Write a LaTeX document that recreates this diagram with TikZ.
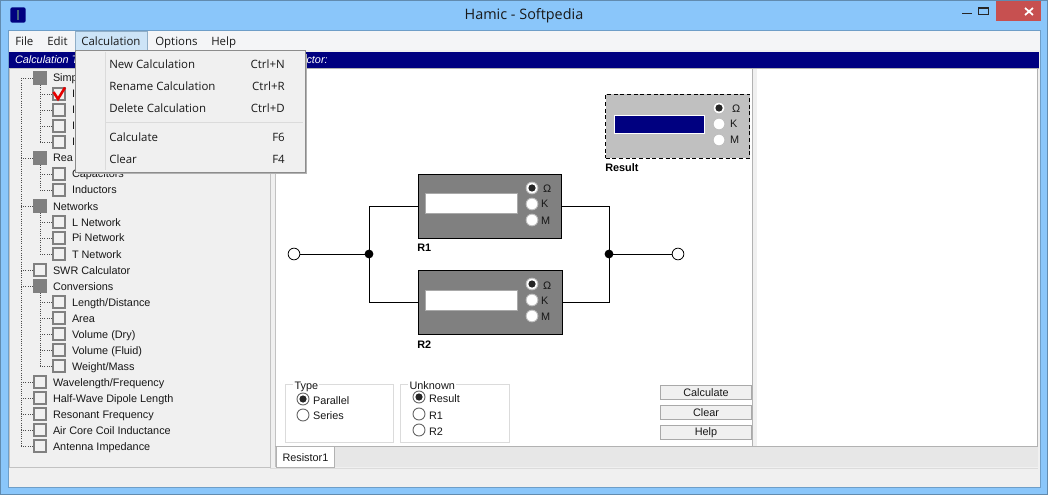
\documentclass[tikz,border=0pt]{standalone}
\usepackage{fontspec}
\setmainfont{Liberation Sans}
\newfontfamily\menufont{Open Sans}
\newcommand{\tw}{\fontsize{8.15pt}{10pt}\selectfont}
\newcommand{\mf}{\menufont\fontsize{8.6pt}{10pt}\selectfont}
\definecolor{chrome}{HTML}{8AC6FA}
\definecolor{panel}{HTML}{F0F0F0}
\definecolor{menubar}{HTML}{F4F5F7}
\definecolor{navyb}{HTML}{000080}
\definecolor{midgrey}{HTML}{808080}
\definecolor{lightg}{HTML}{C0C0C0}
\definecolor{edge}{HTML}{A9A9A9}
\definecolor{txt}{HTML}{181818}
\definecolor{closer}{HTML}{C75050}
\definecolor{hilite}{HTML}{CDE4F7}
\tikzset{
  lab/.style={anchor=base west,yshift=-3pt,inner sep=0pt,outer sep=0pt,text=txt,font=\tw},
  menutext/.style={anchor=base west,yshift=-3.2pt,inner sep=0pt,text=black!90,font=\mf},
  menukey/.style={anchor=base east,yshift=-3.2pt,inner sep=0pt,text=black!90,font=\mf},
  boldlab/.style={anchor=base west,yshift=-3pt,inner sep=0pt,text=black,font=\tw\bfseries},
  emptybox/.style={draw=midgrey,line width=1.5pt,fill=panel,minimum size=9.2pt,inner sep=0pt,outer sep=0.55pt},
  fullbox/.style={fill=midgrey,minimum size=10.2pt,inner sep=0pt,outer sep=0pt},
  treeline/.style={densely dotted,line width=0.7pt,draw=black!70},
  wire/.style={line width=0.7pt,draw=black},
  panelbox/.style={draw=black,line width=0.7pt,fill=midgrey,inner sep=0pt,outer sep=0pt},
  entry/.style={draw=edge,line width=0.75pt,fill=white,inner sep=0pt},
  dial/.style={circle,draw=black!25,line width=0.7pt,fill=white,minimum size=8.8pt,inner sep=0pt},
  dialblack/.style={circle,draw=black!60,line width=0.7pt,fill=white,minimum size=9pt,inner sep=0pt},
  dotin/.style={circle,fill=black!85,minimum size=5.4pt,inner sep=0pt},
  terminal/.style={circle,draw=black,line width=0.6pt,fill=white,minimum size=8.8pt,inner sep=0pt,outer sep=0pt},
  junction/.style={circle,fill=black,minimum size=6.6pt,inner sep=0pt,outer sep=0pt},
  groupbox/.style={draw=black!14,line width=0.75pt,fill=none,inner sep=0pt},
  legendlab/.style={anchor=base west,yshift=-3pt,inner sep=1pt,fill=white,text=txt,font=\tw},
  pushbtn/.style={draw=edge,line width=0.8pt,fill=panel,inner sep=0pt,text=txt,font=\tw,minimum width=68.6pt,minimum height=10.8pt},
}
\newcommand{\dialrow}[4]{% prefix, x, ytop, xlabel
  \node[dial] (#1a) at (#2,#3) {};
  \node[dotin] at (#1a) {};
  \node[dial] (#1b) at (#2,#3+16) {};
  \node[dial] (#1c) at (#2,#3+32) {};
  \node[lab] at (#4+2,#3+1) {Ω};
  \node[lab] at (#4,#3+16) {K};
  \node[lab] at (#4,#3+32) {M};
}
\begin{document}
\begin{tikzpicture}[x=0.75pt,y=-0.75pt]
\useasboundingbox (0,0) rectangle (1048,495);
% window chrome
\fill[chrome] (0,0) rectangle (1048,495);
\draw[draw=chrome!70!black,line width=0.75pt] (0.5,0.5) rectangle (1047.5,494.5);
\fill[panel] (8,31) rectangle (1040,487);
\draw[draw=chrome!80!black,line width=0.75pt] (8,31) rectangle (1040,487);
\fill[menubar] (8.5,31.5) rectangle (1039.5,50);
\fill[navyb] (9,52) rectangle (1039,68);
\fill[black!30] (9,68) rectangle (1039,69);
% app icon and title
\node[fill=navyb,rounded corners=1.5pt,minimum size=11.5pt,inner sep=0pt] (icon) at (18,15) {};
\fill[black!50!chrome] (17,10) rectangle (19,20);
\node[inner sep=0pt,text=black!90,font=\menufont\fontsize{10.8pt}{13pt}\selectfont] (title) at (524,16) {Hamic - Softpedia};
% window buttons
\fill[closer] (996,1) rectangle (1041,21);
\draw[white,line width=1.3pt] (1025,8) -- (1033,15) (1033,8) -- (1025,15);
\draw[black!85,line width=1.3pt] (972,13.5) -- (962,13.5);
\draw[black!85,line width=0.8pt] (978.5,8) rectangle (988.5,14.5);
\draw[black!85,line width=1.5pt] (978.5,8) -- (988.5,8);
% bar text
\node[lab,text=white,font=\tw\itshape] (barl) at (15,60) {Calculation T};
\node[lab,text=white,font=\tw\itshape] (barr) at (306.5,60) {ctor:};
% tree panel
\fill[panel] (9,69) rectangle (270,467);
\draw[draw=black!24,line width=0.75pt] (9.5,69) -- (9.5,467) -- (270,467) -- (270,69) -- cycle;
\draw[draw=black!24,line width=0.75pt] (275,69) -- (275,467);
% working area
\fill[white] (275.5,69) rectangle (1037,446);
\fill[panel] (752,69) rectangle (757,446);
\draw[draw=black!30,line width=0.75pt] (752.5,69) -- (752.5,446);
\draw[draw=black!30,line width=0.75pt] (1037.5,69) -- (1037.5,446);
% tab strip
\fill[panel!96!black] (275.5,446) rectangle (1038,467);
\draw[draw=black!30,line width=0.75pt] (275,446.5) -- (1038,446.5);
\draw[draw=black!14,line width=0.75pt] (270,468) -- (1038,468);
\node[draw=black!30,fill=white,line width=0.75pt,inner sep=0pt,minimum width=43.5pt,minimum height=15.8pt] (tab) at (305,457) {};
\node[lab] (tabl) at (282.5,457.5) {Resistor1};
% tree: top level
\coordinate (trunktop) at (21,78);
\foreach \y/\t in {270/SWR Calculator,382/Wavelength\slash Frequency,398/Half-Wave Dipole Length,414/Resonant Frequency,430/Air Core Coil Inductance,446/Antenna Impedance}{
  \node[emptybox] (b\y) at (40,\y) {};
  \node[lab] at (53,\y) {\t};
}
\foreach \y/\t in {78/Simp,158/Rea,206/Networks,286/Conversions}{
  \node[fullbox] (b\y) at (40,\y) {};
  \node[lab] at (53,\y) {\t};
}
\foreach \y/\t in {94/I,110/I,126/I,142/I,174/Capacitors,190/Inductors,222/L Network,238/Pi Network,254/T Network,302/Length\slash Distance,318/Area,334/Volume (Dry),350/Volume (Fluid),366/Weight\slash Mass}{
  \node[emptybox] (c\y) at (59,\y) {};
  \node[lab] at (72,\y) {\t};
  \draw[treeline] (c\y.west) -- ++(-13,0);
}
\foreach \y in {78,158,206,270,286,382,398,414,430,446}{
  \draw[treeline] (b\y.west) -- (b\y.west -| trunktop);
}
\draw[treeline] (trunktop) -- (b446.west -| trunktop);
\draw[treeline] (b78.south) -- (c142.west -| b78.south);
\draw[treeline] (b158.south) -- (c190.west -| b158.south);
\draw[treeline] (b206.south) -- (c254.west -| b206.south);
\draw[treeline] (b286.south) -- (c366.west -| b286.south);
% red check
\draw[red!90!black,line width=1.9pt,line join=miter] (53.5,92) -- (58,99) -- (65,87.5);
% circuit
\node[panelbox,minimum width=107.25pt,minimum height=48pt] (R1) at (489.5,206) {};
\node[panelbox,minimum width=108pt,minimum height=48pt] (R2) at (490,302) {};
\node[terminal] (inp) at (294,254) {};
\node[terminal] (outp) at (678,254) {};
\node[junction] (j1) at (369,254) {};
\node[junction] (j2) at (609,254) {};
\draw[wire] (inp) -- (j1);
\draw[wire] (j2) -- (outp);
\draw[wire] (j1) |- (R1.west);
\draw[wire] (j1) |- (R2.west);
\draw[wire] (R1.east) -| (j2);
\draw[wire] (R2.east) -| (j2);
\node[entry,minimum width=69pt,minimum height=15pt] (e1) at (471,204) {};
\node[entry,minimum width=69pt,minimum height=15pt] (e2) at (471,300) {};
\dialrow{ra}{532}{188}{541}
\dialrow{rb}{532}{284}{541}
\node[boldlab] (r1l) at (417,247) {R1};
\node[boldlab] (r2l) at (417,344) {R2};
% result box
\node[draw=black,densely dashed,line width=0.7pt,fill=lightg,inner sep=0pt,minimum width=108pt,minimum height=48pt] (res) at (677.5,126) {};
\node[draw=white,line width=0.75pt,fill=navyb,inner sep=0pt,minimum width=67.5pt,minimum height=14pt] (rese) at (659.5,124.5) {};
\dialrow{rc}{719}{108}{730}
\node[boldlab] (resl) at (605,168) {Result};
% groups
\node[groupbox,minimum width=81.5pt,minimum height=43.5pt] (gt) at (339.5,413) {};
\node[legendlab] at (293,385) {Type};
\node[dialblack] (t1) at (303,399) {};
\node[dotin] at (t1) {};
\node[dialblack] (t2) at (303,415) {};
\node[lab] at (313,400) {Parallel};
\node[lab] at (313,415) {Series};
\node[groupbox,minimum width=81.5pt,minimum height=43.5pt] (gu) at (455,413) {};
\node[legendlab] at (408,385) {Unknown};
\node[dialblack] (u1) at (419,397) {};
\node[dotin] at (u1) {};
\node[dialblack] (u2) at (419,414) {};
\node[dialblack] (u3) at (419,430) {};
\node[lab] at (429,398) {Result};
\node[lab] at (429,415) {R1};
\node[lab] at (429,431) {R2};
% buttons
\node[pushbtn] (bc) at (706,392.5) {Calculate};
\node[pushbtn] (bl) at (706,412.5) {Clear};
\node[pushbtn] (bh) at (706,432.5) {Help};
% menu bar
\node[fill=hilite,draw=chrome!70!black!70,line width=0.6pt,minimum width=54pt,minimum height=14.2pt,inner sep=0pt] (calc) at (111,40.5) {};
\node[menutext] (mfile) at (15,41) {File};
\node[menutext] (medit) at (47,41) {Edit};
\node[menutext] (mcalc) at (81,41) {Calculation};
\node[menutext] (mopt) at (155,41) {Options};
\node[menutext] (mhelp) at (211,41) {Help};
% dropdown
\fill[black!30] (78,54) rectangle (307,174);
\node[draw=black!45,line width=0.75pt,fill=panel,inner sep=0pt,minimum width=172.5pt,minimum height=91.5pt] (drop) at (190,112) {};
\draw[draw=black!14,line width=0.75pt] (105,52) -- (105,170);
\draw[draw=black!14,line width=0.75pt] (105,122.5) -- (303,122.5);
\node[menutext] (m1) at (109,64) {New Calculation};
\node[menukey] (k1) at (285,64) {Ctrl+N};
\node[menutext] (m2) at (109,86) {Rename Calculation};
\node[menukey] (k2) at (285,86) {Ctrl+R};
\node[menutext] (m3) at (109,108) {Delete Calculation};
\node[menukey] (k3) at (285,108) {Ctrl+D};
\node[menutext] (m4) at (109,137) {Calculate};
\node[menukey] (k4) at (285,137) {F6};
\node[menutext] (m5) at (109,159) {Clear};
\node[menukey] (k5) at (285,159) {F4};
\end{tikzpicture}
\end{document}
